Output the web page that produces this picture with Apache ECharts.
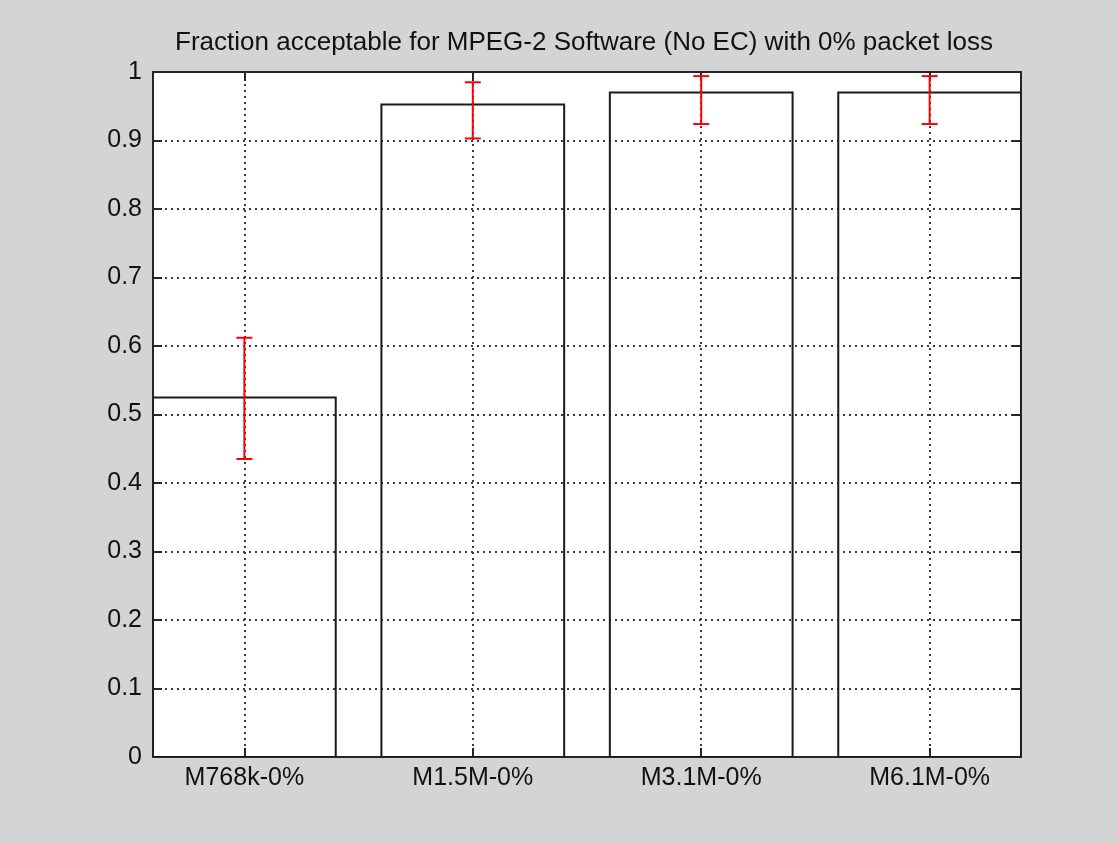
<!DOCTYPE html>
<html>
<head>
<meta charset="utf-8">
<title>Fraction acceptable for MPEG-2 Software (No EC) with 0% packet loss</title>
<script src="https://cdn.jsdelivr.net/npm/echarts@6/dist/echarts.min.js"></script>
<style>
  html, body { margin: 0; padding: 0; background: #d4d4d4; }
  #chart { width: 1118px; height: 844px; }
</style>
</head>
<body>
<div id="chart"></div>
<script>
// Condition labels along the x axis
const categories = ['M768k-0%', 'M1.5M-0%', 'M3.1M-0%', 'M6.1M-0%'];
// Fraction of viewers rating the clip acceptable
const fractions = [0.525, 0.9525, 0.97, 0.97];
// Lower and upper ends of the confidence interval
const ciLow = [0.435, 0.903, 0.924, 0.924];
const ciHigh = [0.612, 0.985, 0.994, 0.994];

const positions = categories.map((_, i) => i + 1);
const FONT = "'Liberation Sans', Arial, Helvetica, sans-serif";
const INK = '#262626';

const barData = positions.map((p, i) => [p, fractions[i]]);
const errData = positions.map((p, i) => [p, ciLow[i], ciHigh[i]]);

const chart = echarts.init(document.getElementById('chart'), null, { renderer: 'canvas' });

const gridLine = { show: true, lineStyle: { color: '#3a3a3a', width: 2, type: [2, 4] } };

chart.setOption({
  backgroundColor: '#d4d4d4',
  animation: false,
  textStyle: { fontFamily: FONT },
  graphic: [{
    type: 'text',
    x: 584, y: 43,
    style: {
      text: 'Fraction acceptable for MPEG-2 Software (No EC) with 0% packet loss',
      fill: '#111', font: '26px ' + FONT,
      textAlign: 'center', textVerticalAlign: 'middle'
    }
  }],
  grid: {
    left: 153, right: 97, top: 72, bottom: 87,
    show: true, backgroundColor: '#ffffff', borderWidth: 0
  },
  xAxis: [{
    type: 'value', min: 0.6, max: 4.4, position: 'bottom',
    axisLine: { show: true, onZero: false, lineStyle: { color: INK, width: 2 } },
    axisTick: { show: true, inside: true, length: 9, customValues: positions, lineStyle: { color: INK, width: 2 } },
    axisLabel: {
      customValues: positions, margin: 9, color: '#111', fontSize: 25, fontFamily: FONT,
      formatter: v => categories[Math.round(v) - 1]
    },
    splitLine: gridLine
  }, {
    type: 'value', min: 0.6, max: 4.4, position: 'top',
    axisLine: { show: true, onZero: false, lineStyle: { color: INK, width: 2 } },
    axisTick: { show: true, inside: true, length: 9, customValues: positions, lineStyle: { color: INK, width: 2 } },
    axisLabel: { show: false },
    splitLine: { show: false }
  }],
  yAxis: [{
    type: 'value', min: 0, max: 1, interval: 0.1, position: 'left',
    axisLine: { show: true, onZero: false, lineStyle: { color: INK, width: 2 } },
    axisTick: { show: true, inside: true, length: 9, lineStyle: { color: INK, width: 2 } },
    axisLabel: { margin: 11, color: '#111', fontSize: 25, fontFamily: FONT },
    splitLine: gridLine
  }, {
    type: 'value', min: 0, max: 1, interval: 0.1, position: 'right',
    axisLine: { show: true, onZero: false, lineStyle: { color: INK, width: 2 } },
    axisTick: { show: true, inside: true, length: 9, lineStyle: { color: INK, width: 2 } },
    axisLabel: { show: false },
    splitLine: { show: false }
  }],
  series: [{
    name: 'fraction',
    type: 'custom',
    clip: true,
    xAxisIndex: 0, yAxisIndex: 0,
    data: barData,
    renderItem: (params, api) => {
      const x = api.value(0), y = api.value(1);
      const p0 = api.coord([x - 0.4, y]);
      const p1 = api.coord([x + 0.4, 0]);
      return {
        type: 'rect',
        shape: { x: p0[0], y: p0[1], width: p1[0] - p0[0], height: p1[1] - p0[1] },
        style: { fill: 'none', stroke: '#1a1a1a', lineWidth: 2 }
      };
    },
    z: 3
  }, {
    name: 'interval',
    type: 'custom',
    xAxisIndex: 0, yAxisIndex: 0,
    data: errData,
    renderItem: (params, api) => {
      const x = api.value(0);
      const lo = api.coord([x, api.value(1)]);
      const hi = api.coord([x, api.value(2)]);
      const hw = 8;
      const st = { stroke: '#ff0000', lineWidth: 2 };
      return {
        type: 'group',
        children: [
          { type: 'line', shape: { x1: lo[0], y1: lo[1], x2: hi[0], y2: hi[1] }, style: st },
          { type: 'line', shape: { x1: lo[0] - hw, y1: lo[1], x2: lo[0] + hw, y2: lo[1] }, style: st },
          { type: 'line', shape: { x1: hi[0] - hw, y1: hi[1], x2: hi[0] + hw, y2: hi[1] }, style: st }
        ]
      };
    },
    z: 4
  }]
});
</script>
</body>
</html>
